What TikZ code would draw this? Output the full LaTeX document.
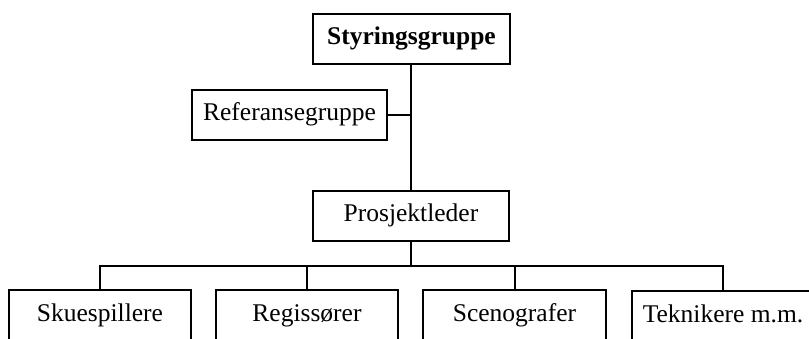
\documentclass[tikz,border=0pt]{standalone}
\usepackage{fontspec}
\setmainfont{Liberation Serif}
\begin{document}
\begin{tikzpicture}[x=1pt,y=-1pt,
  box/.style={draw=black,line width=2pt,fill=white,inner sep=0pt,minimum height=50pt,
    text height=18pt,text depth=6pt,
    font=\fontsize{25.5}{30}\selectfont},
  link/.style={draw=black,line width=2pt}]
\useasboundingbox (0,0) rectangle (809,339);
\clip (0,0) rectangle (809,339);
\node[box,minimum width=197pt,font=\fontsize{25.5}{30}\selectfont\bfseries] (sty) at (411.5,39) {Styringsgruppe};
\node[box,minimum width=195pt] (ref) at (289.5,115) {Referansegruppe};
\node[box,minimum width=196pt] (pro) at (411,216) {Prosjektleder};
\node[box,minimum width=182pt] (sku) at (100,315) {Skuespillere};
\node[box,minimum width=182pt] (reg) at (307,315) {Regissører};
\node[box,minimum width=183pt] (sce) at (514.5,315) {Scenografer};
\node[box,minimum width=182pt] (tek) at (723,316) {Teknikere m.m.};
\coordinate (bus) at (411,266);
\draw[link] (sty.south -| pro.north) -- (pro.north);
\draw[link] (ref.east) -- (ref.east -| pro.north);
\draw[link] (pro.south) -- (bus);
\draw[link] (sku.north) |- (bus) -| (tek.north);
\draw[link] (reg.north) -- (reg.north |- bus);
\draw[link] (sce.north) -- (sce.north |- bus);
\end{tikzpicture}
\end{document}
